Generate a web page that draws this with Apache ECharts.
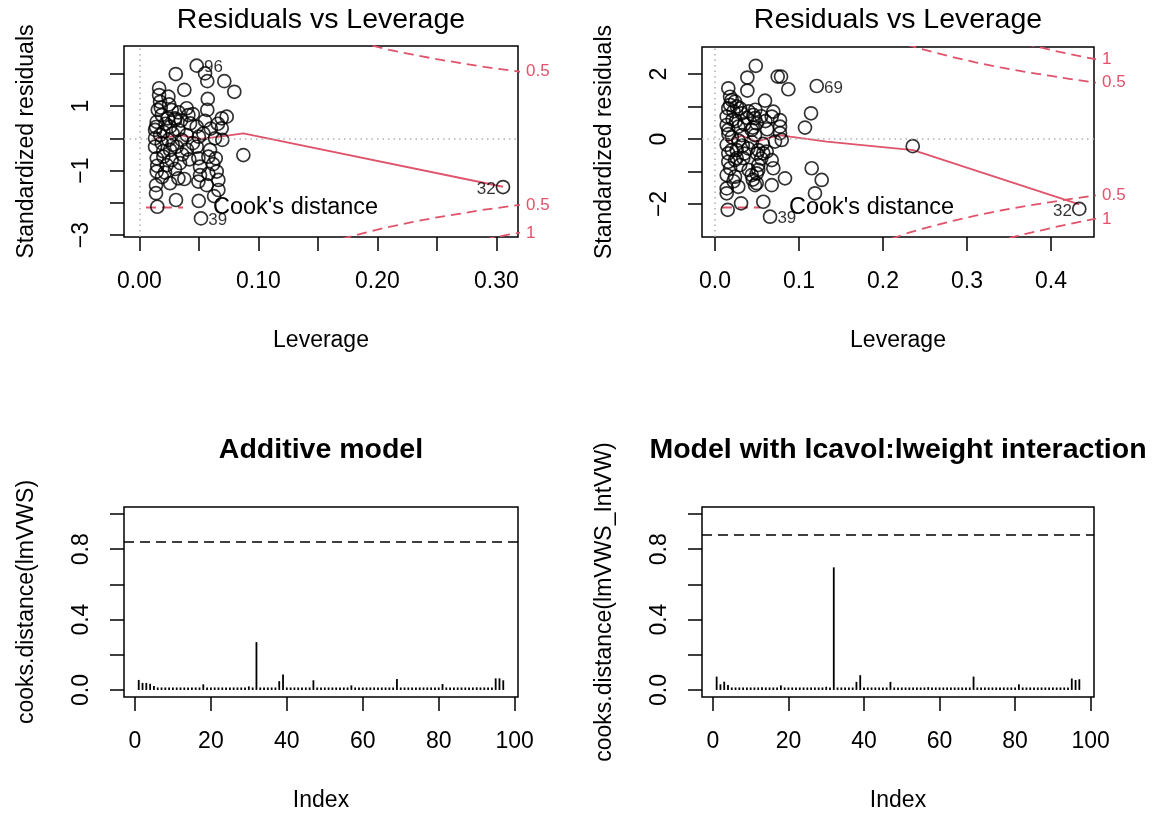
<!DOCTYPE html>
<html><head><meta charset="utf-8">
<script src="https://cdn.jsdelivr.net/npm/echarts@6.0.0/dist/echarts.min.js"></script>
<style>html,body{margin:0;padding:0;background:#fff}#c{width:1162px;height:817px}</style>
</head><body><div id="c"></div>
<script>
const FONT = 'Liberation Sans';
const RED = '#DF536B';

// ---------- Top-left: Residuals vs Leverage (additive model) ----------
const levA = [0.0482,0.0552,0.0571,0.0306,0.0714,0.0798,0.0378,0.0166,0.0166,0.0174,
  0.0244,0.0155,0.0575,0.0571,0.0552,0.0272,0.0300,0.0398,0.0412,0.0426,
  0.0482,0.0692,0.0734,0.0692,0.0697,0.0636,0.0538,0.0594,0.0482,0.0496,
  0.0580,0.0642,0.0650,0.0510,0.0510,0.0496,0.0664,0.0664,0.0566,0.0628,
  0.0499,0.0518,0.0308,0.0151,0.0258,0.0328,0.0378,0.0140,0.0140,0.0146,
  0.0216,0.0146,0.0202,0.0272,0.0230,0.0342,0.0132,0.0188,0.0258,0.0314,
  0.0132,0.0174,0.0244,0.0356,0.0132,0.0202,0.0146,0.0258,0.0328,0.0398,
  0.0188,0.0300,0.0874,0.3056,0.0180,0.0220,0.0280,0.0350,0.0450,0.0400,
  0.0200,0.0150,0.0300,0.0450,0.0600,0.0620,0.0250,0.0330,0.0190,0.0500,
  0.0420,0.0140,0.0660,0.0280,0.0580,0.0240,0.0360];
const resA = [2.25,2.01,1.77,1.99,1.77,1.44,1.50,1.55,1.34,1.13,
  1.29,0.88,1.22,0.88,0.54,0.88,0.62,0.93,0.72,0.46,
  0.36,0.62,0.67,0.31,-0.05,0.00,0.15,-0.36,-0.26,-0.62,
  -0.57,-0.62,-1.03,-0.88,-1.14,-1.34,-1.29,-1.60,-1.45,-1.79,
  -1.94,-2.48,-1.91,-2.12,-1.39,-1.24,-1.26,-1.45,-1.70,-1.03,
  -1.06,-0.62,-0.57,-0.67,-0.83,-0.77,-0.26,-0.15,-0.36,-0.26,
  0.00,0.10,-0.05,-0.05,0.26,0.20,0.51,0.36,0.26,0.10,
  0.72,0.57,-0.52,-1.51,0.95,0.45,0.15,0.55,0.75,-0.35,
  -0.40,-0.85,-0.95,-0.15,0.30,-0.80,1.05,0.80,-1.20,0.05,
  -0.65,0.35,0.45,-0.20,-1.10,0.62,-0.50];
const idLabelsA = {0:'96', 41:'39', 73:'32'};
const lowessLevA = [0.0131,0.0342,0.0510,0.0678,0.0874,0.3056];
const lowessResA = [-0.02,0.10,-0.02,0.05,0.155,-1.50];
const cook05LevA = [0.17,0.19,0.21,0.23,0.25,0.27,0.29,0.32];
const cook05UpA = [3.12,2.92,2.74,2.59,2.45,2.33,2.21,2.06];
const cook05LoA = [-3.12,-2.92,-2.74,-2.59,-2.45,-2.33,-2.21,-2.06];
const cook1LevA = [0.29,0.30,0.31,0.32];
const cook1UpA = [3.13,3.06,2.98,2.92];
const cook1LoA = [-3.13,-3.06,-2.98,-2.92];
const cookLabValA = [2.07,-2.07,-2.93];
const cookLabTxtA = ['0.5','0.5','1'];

// ---------- Top-right: Residuals vs Leverage (interaction model) ----------
const levB = [0.0485,0.0385,0.0746,0.0786,0.0873,0.0385,0.1211,0.0158,0.0179,0.0199,
  0.0238,0.0595,0.0158,0.0139,0.0298,0.0318,0.0456,0.0476,0.0496,0.0694,
  0.0675,0.0774,0.0774,0.0774,0.1143,0.1071,0.0139,0.0158,0.0277,0.0318,
  0.0437,0.0476,0.0794,0.0714,0.0139,0.0199,0.0158,0.0258,0.0258,0.0396,
  0.0515,0.0575,0.0615,0.0158,0.0238,0.0337,0.0675,0.0694,0.0515,0.0515,
  0.0496,0.0437,0.0139,0.0238,0.0833,0.1151,0.1270,0.0476,0.0496,0.0277,
  0.0675,0.0139,0.0139,0.1190,0.0310,0.0575,0.0151,0.0655,0.2354,0.4337,
  0.0180,0.0220,0.0250,0.0350,0.0400,0.0450,0.0550,0.0600,0.0200,0.0280,
  0.0330,0.0440,0.0500,0.0550,0.0180,0.0300,0.0400,0.0220,0.0450,0.0160,
  0.0380,0.0620,0.0260,0.0480,0.0350,0.0570,0.0210];
const resB = [2.25,1.89,1.92,1.92,1.53,1.49,1.63,1.56,1.30,1.20,
  1.15,1.18,0.94,0.69,0.94,0.79,0.74,0.64,0.48,0.84,
  0.69,0.58,0.38,0.18,0.79,0.35,0.43,0.28,0.38,0.12,
  0.28,0.12,-0.03,-0.08,-0.18,-0.34,-0.44,-0.34,-0.59,-0.29,
  -0.34,-0.44,-0.39,-0.70,-0.65,-0.59,-0.65,-0.90,-0.80,-0.95,
  -1.06,-1.11,-1.11,-1.16,-1.21,-0.90,-1.26,-1.42,-1.36,-1.47,
  -1.42,-1.52,-1.67,-1.67,-1.98,-1.93,-2.18,-2.39,-0.22,-2.15,
  1.05,0.85,0.55,0.45,0.85,0.35,0.70,0.55,0.05,-0.05,
  -0.20,-0.10,-0.45,-0.60,-0.90,-0.80,-0.95,-1.30,-1.25,0.15,
  0.65,0.30,1.00,0.90,-0.45,-0.15,0.60];
const idLabelsB = {6:'69', 67:'39', 69:'32'};
const lowessLevB = [0.0139,0.0318,0.0496,0.0754,0.0893,0.133,0.236,0.4337];
const lowessResB = [-0.08,0.10,-0.08,0.12,0.07,-0.08,-0.34,-2.01];
const cook05LevB = [0.21,0.23,0.25,0.28,0.31,0.34,0.37,0.40,0.43,0.46];
const cook05UpB = [3.07,2.89,2.74,2.54,2.36,2.20,2.06,1.94,1.82,1.71];
const cook05LoB = [-3.07,-2.89,-2.74,-2.54,-2.36,-2.20,-2.06,-1.94,-1.82,-1.71];
const cook1LevB = [0.35,0.37,0.39,0.41,0.43,0.46];
const cook1UpB = [3.05,2.92,2.80,2.68,2.57,2.42];
const cook1LoB = [-3.05,-2.92,-2.80,-2.68,-2.57,-2.42];
const cookLabValB = [2.466,1.744,-1.744,-2.466];
const cookLabTxtB = ['1','0.5','0.5','1'];

// ---------- Bottom: Cook's distance by index ----------
const cookAdd = [0.057,0.040,0.040,0.035,0.022,0.008,0.012,0.009,0.006,0.009,
  0.006,0.008,0.014,0.011,0.010,0.009,0.006,0.032,0.011,0.005,
  0.007,0.012,0.009,0.010,0.006,0.006,0.008,0.005,0.012,0.020,
  0.007,0.272,0.006,0.009,0.009,0.010,0.009,0.050,0.088,0.008,
  0.006,0.005,0.005,0.006,0.005,0.007,0.055,0.004,0.005,0.006,
  0.005,0.008,0.006,0.005,0.009,0.006,0.026,0.005,0.006,0.007,
  0.005,0.006,0.012,0.006,0.007,0.010,0.008,0.006,0.062,0.006,
  0.005,0.007,0.006,0.010,0.007,0.006,0.005,0.004,0.006,0.005,
  0.034,0.008,0.006,0.007,0.009,0.010,0.008,0.011,0.007,0.015,
  0.008,0.006,0.005,0.006,0.066,0.066,0.055];
const cookInt = [0.076,0.032,0.047,0.028,0.013,0.006,0.008,0.006,0.005,0.007,
  0.005,0.008,0.016,0.010,0.009,0.006,0.005,0.026,0.009,0.005,
  0.006,0.012,0.008,0.009,0.006,0.005,0.007,0.005,0.010,0.018,
  0.006,0.697,0.005,0.008,0.008,0.009,0.008,0.046,0.084,0.007,
  0.005,0.004,0.005,0.005,0.004,0.006,0.046,0.004,0.005,0.006,
  0.005,0.007,0.006,0.005,0.008,0.006,0.016,0.005,0.006,0.007,
  0.005,0.006,0.011,0.006,0.007,0.009,0.007,0.006,0.076,0.006,
  0.005,0.007,0.006,0.009,0.007,0.006,0.005,0.004,0.006,0.005,
  0.032,0.008,0.006,0.007,0.008,0.009,0.008,0.010,0.007,0.014,
  0.008,0.006,0.005,0.006,0.065,0.057,0.061];
const cutAdd = 0.845;
const cutInt = 0.876;

// ---------- Ticks ----------
const ticksTLx = [0,0.05,0.10,0.15,0.20,0.25,0.30];
const labelsTLx = [0,0.10,0.20,0.30];
const ticksTLy = [-3,-2,-1,0,1,2];
const labelsTLy = [-3,-1,1];
const ticksTRx = [0,0.1,0.2,0.3,0.4];
const labelsTRx = [0,0.1,0.2,0.3,0.4];
const ticksTRy = [-2,-1,0,1,2];
const labelsTRy = [-2,0,2];
const ticksBx = [0,20,40,60,80,100];
const labelsBx = [0,20,40,60,80,100];
const ticksBy = [0,0.2,0.4,0.6,0.8,1.0];
const labelsBy = [0,0.4,0.8];

// ---------- helpers ----------
const minus = s => String(s).replace('-', '\u2212');
const FS = 23;
function xAx(grid, min, max, ticks, labels, dec, name) {
  return {type:'value', gridIndex:grid, min, max, position:'bottom',
    name, nameLocation:'middle', nameGap:92,
    nameTextStyle:{fontFamily:FONT, fontSize:FS, color:'#000'},
    axisLine:{show:false, onZero:false}, splitLine:{show:false},
    axisTick:{show:true, length:14, inside:false, customValues:ticks, lineStyle:{color:'#000', width:1.5}},
    axisLabel:{customValues:labels, margin:33, fontFamily:FONT, fontSize:FS, color:'#000',
      formatter:v => minus(Number(v).toFixed(dec))}};
}
function yAx(grid, min, max, ticks, labels, dec, name) {
  return {type:'value', gridIndex:grid, min, max, position:'left',
    name, nameLocation:'middle', nameGap:86, nameRotate:90,
    nameTextStyle:{fontFamily:FONT, fontSize:FS, color:'#000'},
    axisLine:{show:false, onZero:false}, splitLine:{show:false},
    axisTick:{show:true, length:14, inside:false, customValues:ticks, lineStyle:{color:'#000', width:1.5}},
    axisLabel:{customValues:labels, rotate:90, margin:31, fontFamily:FONT, fontSize:FS, color:'#000',
      formatter:v => minus(Number(v).toFixed(dec))}};
}
function yRight(grid, min, max, vals, txts) {
  return {type:'value', gridIndex:grid, min, max, position:'right',
    axisLine:{show:false, onZero:false}, splitLine:{show:false}, axisTick:{show:false},
    axisLabel:{customValues:vals, margin:8, fontFamily:FONT, fontSize:17, color:RED,
      formatter:v => { const i = vals.findIndex(t => Math.abs(t - v) < 1e-6); return i >= 0 ? txts[i] : ''; }}};
}
function pts(lev, res, labels) {
  return lev.map((h, i) => {
    const d = {value:[h, res[i]]};
    if (labels[i] !== undefined) {
      const left = h > 0.2;
      d.label = {show:true, formatter:labels[i], position:left ? 'left' : 'right', distance:0,
        fontFamily:FONT, fontSize:17, color:'#000', offset:[0, 2]};
    }
    return d;
  });
}
function zip(a, b) { return a.map((v, i) => [v, b[i]]); }
const gridStyle = {show:true, borderColor:'#000', borderWidth:1.5, backgroundColor:'transparent', containLabel:false};
const dotted = {silent:true, symbol:['none','none'], label:{show:false}, animation:false,
  lineStyle:{color:'#B0B0B0', type:[1.5,4], width:1.5}, emphasis:{disabled:true},
  data:[{xAxis:0},{yAxis:0}]};
function scatterSeries(lev, res, labels, xi, yi) {
  return {type:'scatter', xAxisIndex:xi, yAxisIndex:yi, symbol:'circle', symbolSize:13,
    itemStyle:{color:'rgba(0,0,0,0)', borderColor:'#000', borderWidth:1.7},
    data:pts(lev, res, labels), markLine:dotted, z:3};
}
function lineSeries(lev, res, xi, yi, dashed) {
  return {type:'line', xAxisIndex:xi, yAxisIndex:yi, data:zip(lev, res), showSymbol:false, symbol:'none',
    clip:true, smooth:false, lineStyle:{color:RED, width:1.8, type: dashed ? [10,6] : 'solid'}, z:2};
}
function barSeries(vals, cut, xi, yi) {
  return {type:'bar', xAxisIndex:xi, yAxisIndex:yi, barWidth:1.8, barMinHeight:2.5, itemStyle:{color:'#000'},
    data:vals.map((v, i) => [i + 1, v]),
    markLine:{silent:true, symbol:['none','none'], label:{show:false}, animation:false,
      lineStyle:{color:'#000', type:[10,6], width:1.6}, data:[{yAxis:cut}]}};
}
function txt(x, y, text, size, bold, color, align) {
  return {type:'text', x, y, silent:true, style:{text, fill:color || '#000',
    font:(bold ? 'bold ' : '') + size + 'px ' + FONT, textAlign:align || 'center', textVerticalAlign:'middle'}};
}
function seg(x1, x2, y) {
  return {type:'line', silent:true, shape:{x1, y1:y, x2, y2:y}, style:{stroke:RED, lineWidth:1.8, lineDash:[10,6]}};
}

const chart = echarts.init(document.getElementById('c'));
chart.setOption({
  animation:false,
  backgroundColor:'#fff',
  grid:[
    Object.assign({left:124, top:46, width:394, height:191}, gridStyle),
    Object.assign({left:702, top:47, width:392, height:190}, gridStyle),
    Object.assign({left:124, top:507, width:394, height:190}, gridStyle),
    Object.assign({left:702, top:507, width:392, height:190}, gridStyle)
  ],
  xAxis:[
    xAx(0, -0.0129, 0.3182, ticksTLx, labelsTLx, 2, 'Leverage'),
    xAx(1, -0.0155, 0.4512, ticksTRx, labelsTRx, 1, 'Leverage'),
    xAx(2, -2.88, 100.88, ticksBx, labelsBx, 0, 'Index'),
    xAx(3, -2.88, 100.88, ticksBx, labelsBx, 0, 'Index')
  ],
  yAxis:[
    yAx(0, -3.056, 2.858, ticksTLy, labelsTLy, 0, 'Standardized residuals'),
    yRight(0, -3.056, 2.858, cookLabValA, cookLabTxtA),
    yAx(1, -3.015, 2.83, ticksTRy, labelsTRy, 0, 'Standardized residuals'),
    yRight(1, -3.015, 2.83, cookLabValB, cookLabTxtB),
    yAx(2, -0.04, 1.04, ticksBy, labelsBy, 1, 'cooks.distance(lmVWS)'),
    yAx(3, -0.04, 1.04, ticksBy, labelsBy, 1, 'cooks.distance(lmVWS_IntVW)')
  ],
  series:[
    scatterSeries(levA, resA, idLabelsA, 0, 0),
    lineSeries(lowessLevA, lowessResA, 0, 0, false),
    lineSeries(cook05LevA, cook05UpA, 0, 0, true),
    lineSeries(cook05LevA, cook05LoA, 0, 0, true),
    lineSeries(cook1LevA, cook1UpA, 0, 0, true),
    lineSeries(cook1LevA, cook1LoA, 0, 0, true),
    scatterSeries(levB, resB, idLabelsB, 1, 2),
    lineSeries(lowessLevB, lowessResB, 1, 2, false),
    lineSeries(cook05LevB, cook05UpB, 1, 2, true),
    lineSeries(cook05LevB, cook05LoB, 1, 2, true),
    lineSeries(cook1LevB, cook1UpB, 1, 2, true),
    lineSeries(cook1LevB, cook1LoB, 1, 2, true),
    barSeries(cookAdd, cutAdd, 2, 4),
    barSeries(cookInt, cutInt, 3, 5)
  ],
  graphic:[
    txt(321, 20, 'Residuals vs Leverage', 28.5, false),
    txt(898, 20, 'Residuals vs Leverage', 28.5, false),
    txt(321, 450, 'Additive model', 28.5, true),
    txt(898, 450, 'Model with lcavol:lweight interaction', 28.5, true),
    seg(146, 183, 207.5),
    txt(213, 208, "Cook's distance", 23.5, false, '#000', 'left'),
    seg(722, 760, 207.5),
    txt(789, 208, "Cook's distance", 23.5, false, '#000', 'left')
  ]
});
</script>
</body></html>
